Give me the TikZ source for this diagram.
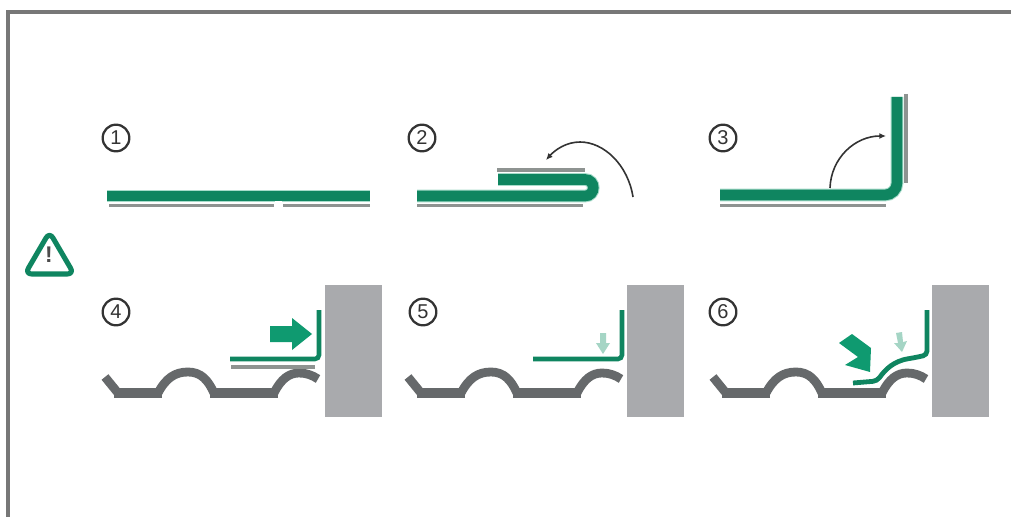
\documentclass[tikz,border=0pt]{standalone}
\usepackage{fontspec}
\setmainfont{Liberation Sans}
\usetikzlibrary{arrows.meta}
\definecolor{sheet}{HTML}{0F8560}
\definecolor{halo}{HTML}{A8DCCB}
\definecolor{roof}{HTML}{66696B}
\definecolor{wall}{HTML}{A9AAAD}
\definecolor{under}{HTML}{8E9391}
\definecolor{frame}{HTML}{777777}
\definecolor{pale}{HTML}{A5D5C5}
\definecolor{mark}{HTML}{0F9A70}
\tikzset{
  thick sheet/.style={draw=sheet,line width=8pt},
  thin sheet/.style={draw=sheet,line width=3.4pt},
  halo sheet/.style={draw=halo,line width=9.5pt},
  underlay/.style={draw=under,line width=2.4pt},
  wall block/.style={fill=wall,draw=none},
  roof line/.style={draw=roof,line width=6.6pt,line join=round},
  roof flat/.style={draw=roof,line width=7.6pt},
  curl/.style={draw=black!80,line width=1.2pt,-{Latex[length=5pt,width=4.5pt]}},
  step number/.style={circle,draw=black!80,line width=1.7pt,minimum size=20pt,inner sep=0pt,font=\fontsize{15}{15}\selectfont,text=black!80},
  pale arrow/.style={fill=pale,draw=none},
  block arrow/.style={fill=mark,draw=none},
  pics/roofprofile/.style={code={
    \draw[roof line] (105,377) -- (118,393) -- (158,393)
      .. controls (166,378) and (175,372) .. (188,372)
      .. controls (201,372) and (208,380) .. (214,393) -- (274,393)
      .. controls (281,379) and (289,373) .. (299,373)
      .. controls (306,373) and (312,375) .. (318,379);
    \draw[roof flat] (114,393) -- (162,393);
    \draw[roof flat] (210,393) -- (278,393);
  }}
}
\begin{document}
\begin{tikzpicture}[x=0.75pt,y=-0.75pt]
\useasboundingbox (0,0) rectangle (1011,517);
\fill[white] (0,0) rectangle (1011,517);
% frame
\fill[frame] (6,10) rectangle (1011,14);
\fill[frame] (6,10) rectangle (9.5,517);
% step numbers
\node[step number] (n1) at (116,138) {1};
\node[step number] (n2) at (422,138) {2};
\node[step number] (n3) at (723,138) {3};
\node[step number] (n4) at (116,312) {4};
\node[step number] (n5) at (423,312) {5};
\node[step number] (n6) at (723,312) {6};
% panel 1
\draw[halo sheet] (107,196) -- (370,196);
\draw[thick sheet] (107,196) -- (370,196);
\draw[underlay] (109,205.5) -- (274,205.5);
\draw[underlay] (283,205.5) -- (370,205.5);
\fill[white] (275,201) rectangle (282,208);
% panel 2
\draw[halo sheet] (417,196) -- (585,196) .. controls (596,196) and (596,179.5) .. (585,179.5) -- (498,179.5);
\draw[thick sheet] (417,196) -- (585,196) .. controls (596,196) and (596,179.5) .. (585,179.5) -- (498,179.5);
\draw[underlay] (417,205.5) -- (583,205.5);
\draw[underlay] (497,170) -- (585,170);
\fill[white] (480,186.2) rectangle (580,189);
\draw[curl] (633,197) .. controls (628,165) and (604,142) .. (580,142) .. controls (566,142) and (555,150) .. (546,160);
% panel 3
\draw[halo sheet,rounded corners=9pt] (720,195) -- (897,195) -- (897,97);
\draw[thick sheet,rounded corners=9pt] (720,195) -- (897,195) -- (897,97);
\draw[underlay] (720,205.5) -- (886,205.5);
\draw[underlay] (906,94) -- (906,183);
\draw[curl] (830,188) .. controls (831,158) and (855,136) .. (886,136);
% warning
\draw[draw=sheet,line width=3.8pt,line join=round,rounded corners=5pt] (49.5,232) -- (74,274) -- (25,274) -- cycle;
\node[font=\bfseries\fontsize{17}{17}\selectfont,text=black!70,inner sep=0pt] (warn) at (49,255) {!};
% panel 4
\fill[wall block] (325,285) rectangle (382,417);
\pic at (0,0) {roofprofile};
\draw[underlay,line width=2.6pt] (231,367) -- (315,367);
\draw[thin sheet,rounded corners=3pt] (230,359) -- (319,359) -- (319,310);
\fill[block arrow] (270,326) -- (292,326) -- (292,318) -- (312,334) -- (292,350) -- (292,342) -- (270,342) -- cycle;
% panel 5
\fill[wall block] (627,285) rectangle (684,417);
\pic at (303,0) {roofprofile};
\draw[thin sheet,rounded corners=3pt] (533,359) -- (622,359) -- (622,310);
\fill[pale arrow] (600,333) -- (606,333) -- (606,343) -- (610,343) -- (603,354) -- (596,343) -- (600,343) -- cycle;
% panel 6
\fill[wall block] (932,285) rectangle (989,417);
\pic at (608,0) {roofprofile};
\draw[draw=sheet,line width=3.6pt,rounded corners=3pt] (927,310) -- (927,355) -- (913,358) .. controls (893,361) and (885,370) .. (877,381) -- (853,383);
\fill[block arrow] (839,343) -- (852,334) -- (871,348) -- (870,372) -- (845,365) -- (858,357) -- cycle;
\fill[pale arrow] (896,333) -- (902,332) -- (903,342) -- (907,341) -- (902,352) -- (894,343) -- (898,343) -- cycle;
\end{tikzpicture}
\end{document}
